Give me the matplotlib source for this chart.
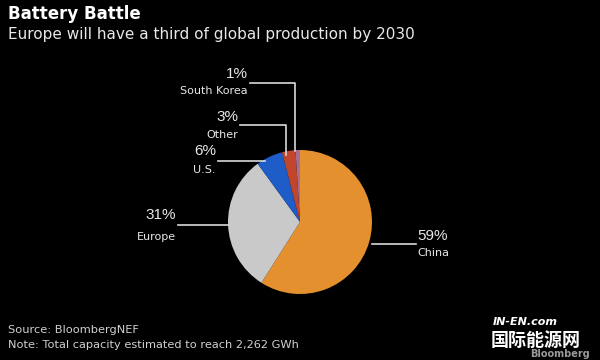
import matplotlib
matplotlib.use("Agg")
import matplotlib.pyplot as plt

# Data
regions = ["China", "Europe", "U.S.", "Other", "South Korea"]
shares = [59, 31, 6, 3, 1]
colors = ["#E4902F", "#C9C9C9", "#1E5CC8", "#C2462B", "#A86C95"]

title = "Battery Battle"
subtitle = "Europe will have a third of global production by 2030"
source = "Source: BloombergNEF"
note = "Note: Total capacity estimated to reach 2,262 GWh"

W, H = 600, 360
fig = plt.figure(figsize=(6, 3.6), dpi=100, facecolor="black")
ax = fig.add_axes([0, 0, 1, 1])
ax.set_facecolor("black")

def Y(y):
    return H - y

cx, cy, r = 300, 222, 72
ax.pie(shares, colors=colors, startangle=90, counterclock=False,
       center=(cx, Y(cy)), radius=r, frame=True,
       wedgeprops=dict(linewidth=0))
ax.set_xlim(0, W)
ax.set_ylim(0, H)
ax.set_aspect("auto")
ax.axis("off")

lc = "#d9d9d9"
lw = 1.2
# leader lines (pixel layout)
ax.plot([372, 416], [Y(244), Y(244)], color=lc, lw=lw)          # China
ax.plot([178, 229], [Y(225), Y(225)], color=lc, lw=lw)          # Europe
ax.plot([218, 265], [Y(161), Y(161)], color=lc, lw=lw)          # U.S.
ax.plot([240, 286, 286], [Y(125), Y(125), Y(155)], color=lc, lw=lw)  # Other
ax.plot([250, 295, 295], [Y(83), Y(83), Y(151)], color=lc, lw=lw)    # South Korea

pct_font = ["Liberation Sans", "DejaVu Sans"]
pct_fs = 11
lab_fs = 8
tc = "#e8e8e8"
labels = [
    # (pct x, pct y, align, label y)
    (417, 236, "left", 253),
    (176, 215, "right", 237),
    (216, 151, "right", 170),
    (238, 117, "right", 135),
    (248, 74, "right", 91),
]
for i, (x, yp, ha, yl) in enumerate(labels):
    ax.text(x, Y(yp), f"{shares[i]}%", color=tc, fontsize=pct_fs, ha=ha,
            va="center", family=pct_font)
    ax.text(x, Y(yl), regions[i], color=tc, fontsize=lab_fs, ha=ha, va="center")

ax.text(8, Y(14), title, color="white", fontsize=12, fontweight="bold", ha="left", va="center")
ax.text(8, Y(35), subtitle, color="#e8e8e8", fontsize=11, ha="left", va="center")
ax.text(8, Y(330), source, color="#d0d0d0", fontsize=8.2, ha="left", va="center")
ax.text(8, Y(345), note, color="#d0d0d0", fontsize=8.2, ha="left", va="center")

# watermark
ax.text(493, Y(322), "IN-EN.com", color="white", fontsize=8, fontweight="bold",
        style="italic", ha="left", va="center")
ax.text(491, Y(340), "国际能源网", color="white", fontsize=13, fontweight="bold",
        family=["Noto Sans CJK SC", "DejaVu Sans"], ha="left", va="center")
ax.text(590, Y(354), "Bloomberg", color="#9a9a9a", fontsize=7, fontweight="bold",
        ha="right", va="center")

fig.savefig("out.png", dpi=100, facecolor="black")
